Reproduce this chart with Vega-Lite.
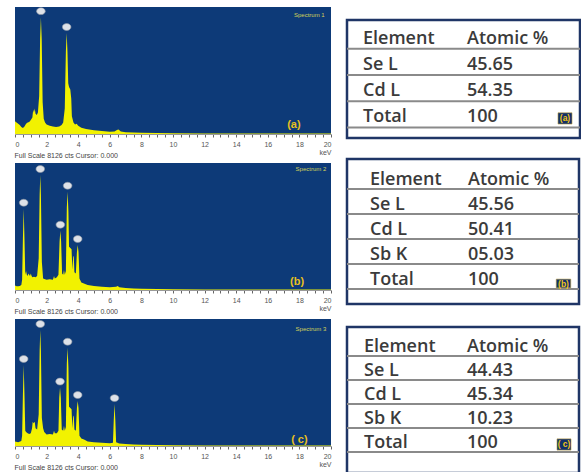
{
  "$schema": "https://vega.github.io/schema/vega-lite/v6.json",
  "padding": {"left": 14, "top": 7, "right": 0, "bottom": 0},
  "background": "white",
  "config": {"view": {"stroke": null}, "font": "Liberation Sans"},
  "datasets": {
    "specA": [
      {"keV":0,"cts":10},{"keV":0.1,"cts":9},{"keV":0.2,"cts":8},{"keV":0.3,"cts":7},{"keV":0.4,"cts":5.5},{"keV":0.5,"cts":4.7},{"keV":0.6,"cts":6},{"keV":0.7,"cts":8},{"keV":0.8,"cts":9},{"keV":0.9,"cts":9.5},{"keV":1.0,"cts":11},{"keV":1.1,"cts":13},{"keV":1.15,"cts":19},{"keV":1.2,"cts":17},{"keV":1.25,"cts":20},{"keV":1.3,"cts":16},{"keV":1.38,"cts":15},{"keV":1.45,"cts":17},{"keV":1.53,"cts":30},{"keV":1.59,"cts":75},{"keV":1.64,"cts":92},{"keV":1.69,"cts":75},{"keV":1.75,"cts":25},{"keV":1.82,"cts":12},{"keV":1.9,"cts":9},{"keV":2.0,"cts":7.5},{"keV":2.2,"cts":6.5},{"keV":2.4,"cts":6},{"keV":2.6,"cts":5.5},{"keV":2.8,"cts":6},{"keV":2.95,"cts":7},{"keV":3.05,"cts":9},{"keV":3.15,"cts":20},{"keV":3.22,"cts":65},{"keV":3.27,"cts":79.5},{"keV":3.32,"cts":65},{"keV":3.37,"cts":40},{"keV":3.42,"cts":37},{"keV":3.5,"cts":35},{"keV":3.56,"cts":28},{"keV":3.6,"cts":14},{"keV":3.7,"cts":9},{"keV":3.8,"cts":7.5},{"keV":3.9,"cts":8},{"keV":4.0,"cts":6.5},{"keV":4.2,"cts":5},{"keV":4.5,"cts":4},{"keV":5.0,"cts":3},{"keV":5.5,"cts":2.4},{"keV":6.0,"cts":1.8},{"keV":6.3,"cts":2},{"keV":6.45,"cts":3.2},{"keV":6.55,"cts":3.5},{"keV":6.7,"cts":2},{"keV":7.0,"cts":1.4},{"keV":7.5,"cts":1.1},{"keV":8.0,"cts":1},{"keV":9.0,"cts":0.7},{"keV":10,"cts":0.5},{"keV":12,"cts":0.4},{"keV":20,"cts":0.3}
    ],
    "specB": [
      {"keV":0,"cts":3.5},{"keV":0.1,"cts":3},{"keV":0.2,"cts":3},{"keV":0.3,"cts":3.2},{"keV":0.4,"cts":4},{"keV":0.45,"cts":8},{"keV":0.5,"cts":40},{"keV":0.55,"cts":64},{"keV":0.6,"cts":40},{"keV":0.65,"cts":12},{"keV":0.7,"cts":15},{"keV":0.75,"cts":12},{"keV":0.8,"cts":11},{"keV":0.85,"cts":13},{"keV":0.9,"cts":12},{"keV":0.95,"cts":11},{"keV":1.0,"cts":13},{"keV":1.05,"cts":11},{"keV":1.1,"cts":10},{"keV":1.2,"cts":10.5},{"keV":1.3,"cts":10},{"keV":1.4,"cts":11},{"keV":1.5,"cts":25},{"keV":1.56,"cts":75},{"keV":1.6,"cts":90.5},{"keV":1.64,"cts":75},{"keV":1.7,"cts":22},{"keV":1.78,"cts":9},{"keV":1.9,"cts":8.5},{"keV":2.0,"cts":8},{"keV":2.2,"cts":8.5},{"keV":2.4,"cts":8},{"keV":2.47,"cts":11},{"keV":2.52,"cts":9},{"keV":2.65,"cts":10},{"keV":2.75,"cts":12},{"keV":2.82,"cts":38},{"keV":2.87,"cts":46.7},{"keV":2.92,"cts":38},{"keV":2.98,"cts":13},{"keV":3.05,"cts":12},{"keV":3.1,"cts":16},{"keV":3.15,"cts":12},{"keV":3.22,"cts":15},{"keV":3.28,"cts":65},{"keV":3.33,"cts":77.4},{"keV":3.38,"cts":62},{"keV":3.42,"cts":34},{"keV":3.5,"cts":33},{"keV":3.58,"cts":32},{"keV":3.63,"cts":16},{"keV":3.68,"cts":26},{"keV":3.72,"cts":27},{"keV":3.76,"cts":14},{"keV":3.85,"cts":13},{"keV":3.92,"cts":30},{"keV":3.97,"cts":35.4},{"keV":4.02,"cts":30},{"keV":4.08,"cts":9},{"keV":4.2,"cts":6},{"keV":4.4,"cts":5},{"keV":4.6,"cts":4},{"keV":5.0,"cts":3.2},{"keV":5.5,"cts":2.6},{"keV":6.0,"cts":2.1},{"keV":6.4,"cts":2.5},{"keV":6.5,"cts":3.2},{"keV":6.6,"cts":2.2},{"keV":7.0,"cts":1.5},{"keV":7.5,"cts":1.2},{"keV":8.0,"cts":1.0},{"keV":9.0,"cts":0.7},{"keV":10,"cts":0.5},{"keV":12,"cts":0.4},{"keV":20,"cts":0.3}
    ],
    "specC": [
      {"keV":0,"cts":3.5},{"keV":0.2,"cts":3},{"keV":0.4,"cts":4},{"keV":0.45,"cts":8},{"keV":0.5,"cts":40},{"keV":0.55,"cts":63.8},{"keV":0.6,"cts":40},{"keV":0.65,"cts":12},{"keV":0.7,"cts":11},{"keV":0.8,"cts":10},{"keV":0.9,"cts":9.5},{"keV":1.0,"cts":10},{"keV":1.08,"cts":14},{"keV":1.12,"cts":19},{"keV":1.18,"cts":18},{"keV":1.25,"cts":19},{"keV":1.3,"cts":14},{"keV":1.4,"cts":13},{"keV":1.5,"cts":25},{"keV":1.56,"cts":75},{"keV":1.6,"cts":91.3},{"keV":1.64,"cts":75},{"keV":1.7,"cts":22},{"keV":1.78,"cts":14},{"keV":1.85,"cts":11},{"keV":2.0,"cts":9},{"keV":2.2,"cts":9.5},{"keV":2.4,"cts":9},{"keV":2.47,"cts":12},{"keV":2.52,"cts":10},{"keV":2.65,"cts":10},{"keV":2.75,"cts":12},{"keV":2.8,"cts":38},{"keV":2.85,"cts":46},{"keV":2.9,"cts":38},{"keV":2.96,"cts":13},{"keV":3.05,"cts":12},{"keV":3.1,"cts":16},{"keV":3.15,"cts":12},{"keV":3.22,"cts":15},{"keV":3.28,"cts":65},{"keV":3.33,"cts":77.4},{"keV":3.38,"cts":62},{"keV":3.42,"cts":31},{"keV":3.5,"cts":30},{"keV":3.58,"cts":29},{"keV":3.63,"cts":14},{"keV":3.68,"cts":23},{"keV":3.72,"cts":24},{"keV":3.76,"cts":13},{"keV":3.85,"cts":12},{"keV":3.92,"cts":30},{"keV":3.97,"cts":35.4},{"keV":4.02,"cts":30},{"keV":4.08,"cts":8},{"keV":4.2,"cts":6},{"keV":4.4,"cts":5},{"keV":4.6,"cts":3.5},{"keV":5.0,"cts":3},{"keV":5.5,"cts":2.5},{"keV":6.0,"cts":2.2},{"keV":6.2,"cts":2.5},{"keV":6.25,"cts":20},{"keV":6.3,"cts":33},{"keV":6.35,"cts":20},{"keV":6.4,"cts":3},{"keV":6.6,"cts":2},{"keV":7.0,"cts":1.5},{"keV":7.5,"cts":1.2},{"keV":8.0,"cts":1.0},{"keV":9.0,"cts":0.7},{"keV":10,"cts":0.5},{"keV":12,"cts":0.4},{"keV":20,"cts":0.3}
    ],
    "peaksA": [{"keV":1.64,"cts":92},{"keV":3.27,"cts":79.5}],
    "peaksB": [{"keV":0.55,"cts":64},{"keV":1.6,"cts":90.5},{"keV":2.87,"cts":46.7},{"keV":3.33,"cts":77.4},{"keV":3.97,"cts":35.4}],
    "peaksC": [{"keV":0.55,"cts":63.8},{"keV":1.6,"cts":91.3},{"keV":2.85,"cts":46},{"keV":3.33,"cts":77.4},{"keV":3.97,"cts":35.4},{"keV":6.3,"cts":33}],
    "tableA": [{"element":"Element","atomic":"Atomic %"},{"element":"Se L","atomic":"45.65"},{"element":"Cd L","atomic":"54.35"},{"element":"Total","atomic":"100","badge":"(a)"}],
    "tableB": [{"element":"Element","atomic":"Atomic %"},{"element":"Se L","atomic":"45.56"},{"element":"Cd L","atomic":"50.41"},{"element":"Sb K","atomic":"05.03"},{"element":"Total","atomic":"100","badge":"(b)"}],
    "tableC": [{"element":"Element","atomic":"Atomic %"},{"element":"Se L","atomic":"44.43"},{"element":"Cd L","atomic":"45.34"},{"element":"Sb K","atomic":"10.23"},{"element":"Total","atomic":"100","badge":"( c)"}]
  },
  "spacing": 12,
  "hconcat": [
    {
      "spacing": 29,
      "bounds": "flush",
      "vconcat": [
        {
          "width": 316, "height": 127,
          "view": {"fill": "#0d3a78", "stroke": null},
          "title": {"text": "Full Scale 8126 cts Cursor: 0.000", "orient": "bottom", "anchor": "start", "fontSize": 7, "fontWeight": "normal", "color": "#444444", "offset": -3},
          "layer": [
            {"data": {"name": "specA"}, "mark": {"type": "area", "color": "#f2f200", "clip": true, "opacity": 1},
             "encoding": {
               "x": {"field": "keV", "type": "quantitative", "scale": {"domain": [0, 20], "nice": false, "zero": false},
                     "axis": {"values": [0,0.5,1,1.5,2,2.5,3,3.5,4,4.5,5,5.5,6,6.5,7,7.5,8,8.5,9,9.5,10,10.5,11,11.5,12,12.5,13,13.5,14,14.5,15,15.5,16,16.5,17,17.5,18,18.5,19,19.5,20], "tickCount": 100,
                              "labelExpr": "datum.value % 2 === 0 ? format(datum.value, 'd') : ''", "labelOverlap": false, "labelFlush": true,
                              "labelFontSize": 7, "labelColor": "#555555", "labelPadding": 3, "tickSize": 3, "tickColor": "#666666", "domainColor": "#999999", "grid": false,
                              "title": "keV", "titleAnchor": "end", "titleFontSize": 7, "titleFontWeight": "normal", "titleColor": "#555555", "titlePadding": 1}},
               "y": {"field": "cts", "type": "quantitative", "scale": {"domain": [0, 100]}, "axis": null}}},
            {"data": {"name": "peaksA"}, "mark": {"type": "point", "shape": "M-1,0A1,0.8 0 1,0 1,0A1,0.8 0 1,0 -1,0Z", "filled": true, "size": 75, "fill": "#dde1e8", "stroke": "#8f97a3", "strokeWidth": 0.6, "opacity": 1, "yOffset": -6, "clip": true},
             "encoding": {"x": {"field": "keV", "type": "quantitative"}, "y": {"field": "cts", "type": "quantitative"}}},
            {"data": {"values": [{}]}, "mark": {"type": "text", "text": "Spectrum 1", "align": "right", "baseline": "middle", "fontSize": 6, "color": "#d2d25a"},
             "encoding": {"x": {"datum": 19.6}, "y": {"datum": 94}}},
            {"data": {"values": [{}]}, "mark": {"type": "text", "text": "(a)", "align": "center", "baseline": "middle", "fontSize": 11, "fontWeight": "bold", "color": "#e8c020"},
             "encoding": {"x": {"datum": 17.65}, "y": {"datum": 7}}}
          ]
        },
        {
          "width": 316, "height": 127,
          "view": {"fill": "#0d3a78", "stroke": null},
          "title": {"text": "Full Scale 8126 cts Cursor: 0.000", "orient": "bottom", "anchor": "start", "fontSize": 7, "fontWeight": "normal", "color": "#444444", "offset": -3},
          "layer": [
            {"data": {"name": "specB"}, "mark": {"type": "area", "color": "#f2f200", "clip": true, "opacity": 1},
             "encoding": {
               "x": {"field": "keV", "type": "quantitative", "scale": {"domain": [0, 20], "nice": false, "zero": false},
                     "axis": {"values": [0,0.5,1,1.5,2,2.5,3,3.5,4,4.5,5,5.5,6,6.5,7,7.5,8,8.5,9,9.5,10,10.5,11,11.5,12,12.5,13,13.5,14,14.5,15,15.5,16,16.5,17,17.5,18,18.5,19,19.5,20], "tickCount": 100,
                              "labelExpr": "datum.value % 2 === 0 ? format(datum.value, 'd') : ''", "labelOverlap": false, "labelFlush": true,
                              "labelFontSize": 7, "labelColor": "#555555", "labelPadding": 3, "tickSize": 3, "tickColor": "#666666", "domainColor": "#999999", "grid": false,
                              "title": "keV", "titleAnchor": "end", "titleFontSize": 7, "titleFontWeight": "normal", "titleColor": "#555555", "titlePadding": 1}},
               "y": {"field": "cts", "type": "quantitative", "scale": {"domain": [0, 100]}, "axis": null}}},
            {"data": {"name": "peaksB"}, "mark": {"type": "point", "shape": "M-1,0A1,0.8 0 1,0 1,0A1,0.8 0 1,0 -1,0Z", "filled": true, "size": 75, "fill": "#dde1e8", "stroke": "#8f97a3", "strokeWidth": 0.6, "opacity": 1, "yOffset": -6, "clip": true},
             "encoding": {"x": {"field": "keV", "type": "quantitative"}, "y": {"field": "cts", "type": "quantitative"}}},
            {"data": {"values": [{}]}, "mark": {"type": "text", "text": "Spectrum 2", "align": "right", "baseline": "middle", "fontSize": 6, "color": "#d2d25a"},
             "encoding": {"x": {"datum": 19.7}, "y": {"datum": 95.5}}},
            {"data": {"values": [{}]}, "mark": {"type": "text", "text": "(b)", "align": "center", "baseline": "middle", "fontSize": 11, "fontWeight": "bold", "color": "#e8c020"},
             "encoding": {"x": {"datum": 17.85}, "y": {"datum": 6.5}}}
          ]
        },
        {
          "width": 316, "height": 127,
          "view": {"fill": "#0d3a78", "stroke": null},
          "title": {"text": "Full Scale 8126 cts Cursor: 0.000", "orient": "bottom", "anchor": "start", "fontSize": 7, "fontWeight": "normal", "color": "#444444", "offset": -3},
          "layer": [
            {"data": {"name": "specC"}, "mark": {"type": "area", "color": "#f2f200", "clip": true, "opacity": 1},
             "encoding": {
               "x": {"field": "keV", "type": "quantitative", "scale": {"domain": [0, 20], "nice": false, "zero": false},
                     "axis": {"values": [0,0.5,1,1.5,2,2.5,3,3.5,4,4.5,5,5.5,6,6.5,7,7.5,8,8.5,9,9.5,10,10.5,11,11.5,12,12.5,13,13.5,14,14.5,15,15.5,16,16.5,17,17.5,18,18.5,19,19.5,20], "tickCount": 100,
                              "labelExpr": "datum.value % 2 === 0 ? format(datum.value, 'd') : ''", "labelOverlap": false, "labelFlush": true,
                              "labelFontSize": 7, "labelColor": "#555555", "labelPadding": 3, "tickSize": 3, "tickColor": "#666666", "domainColor": "#999999", "grid": false,
                              "title": "keV", "titleAnchor": "end", "titleFontSize": 7, "titleFontWeight": "normal", "titleColor": "#555555", "titlePadding": 1}},
               "y": {"field": "cts", "type": "quantitative", "scale": {"domain": [0, 100]}, "axis": null}}},
            {"data": {"name": "peaksC"}, "mark": {"type": "point", "shape": "M-1,0A1,0.8 0 1,0 1,0A1,0.8 0 1,0 -1,0Z", "filled": true, "size": 75, "fill": "#dde1e8", "stroke": "#8f97a3", "strokeWidth": 0.6, "opacity": 1, "yOffset": -6, "clip": true},
             "encoding": {"x": {"field": "keV", "type": "quantitative"}, "y": {"field": "cts", "type": "quantitative"}}},
            {"data": {"values": [{}]}, "mark": {"type": "text", "text": "Spectrum 3", "align": "right", "baseline": "middle", "fontSize": 6, "color": "#d2d25a"},
             "encoding": {"x": {"datum": 19.7}, "y": {"datum": 92}}},
            {"data": {"values": [{}]}, "mark": {"type": "text", "text": "( c)", "align": "center", "baseline": "middle", "fontSize": 11, "fontWeight": "bold", "color": "#e8c020"},
             "encoding": {"x": {"datum": 18.0}, "y": {"datum": 4.5}}}
          ]
        }
      ]
    },
    {
      "spacing": 0,
      "vconcat": [
        {"width": 1, "height": 11, "data": {"values": []}, "mark": {"type": "point"}},
        {
          "width": 233, "height": 118,
          "view": {"stroke": "#1f3566", "strokeWidth": 2.5, "fill": "white"},
          "data": {"name": "tableA"},
          "layer": [
            {"mark": {"type": "rule", "color": "#8a8a8a", "strokeWidth": 2},
             "encoding": {"y": {"field": "element", "type": "nominal", "sort": null, "bandPosition": 1, "axis": null, "scale": {"type": "band", "paddingInner": 0, "paddingOuter": 0.25, "align": 0.2}}}},
            {"mark": {"type": "text", "align": "left", "baseline": "middle", "dy": 3, "font": "Open Sans", "fontSize": 18, "fontWeight": 600, "color": "#3b3b3b"},
             "encoding": {"x": {"datum": "c1", "type": "nominal", "axis": null, "scale": {"type": "point", "domain": ["c1", "c2", "c3"], "range": [16, 224], "padding": 0}},
                          "y": {"field": "element", "type": "nominal", "sort": null}, "text": {"field": "element"}}},
            {"mark": {"type": "text", "align": "left", "baseline": "middle", "dy": 3, "font": "Open Sans", "fontSize": 18, "fontWeight": 600, "color": "#3b3b3b"},
             "encoding": {"x": {"datum": "c2", "type": "nominal"}, "y": {"field": "element", "type": "nominal", "sort": null}, "text": {"field": "atomic"}}},
            {"transform": [{"filter": "isValid(datum.badge)"}],
             "mark": {"type": "point", "shape": "M-1,-0.8H1V0.8H-1Z", "filled": true, "size": 196, "fill": "#12306b", "stroke": "#b99b3a", "strokeWidth": 0.6, "opacity": 1, "yOffset": 4, "xOffset": -6},
             "encoding": {"x": {"datum": "c3", "type": "nominal"}, "y": {"field": "element", "type": "nominal", "sort": null}}},
            {"transform": [{"filter": "isValid(datum.badge)"}],
             "mark": {"type": "text", "align": "center", "baseline": "middle", "fontSize": 8.5, "fontWeight": "bold", "color": "#f0c419", "yOffset": 4, "xOffset": -6},
             "encoding": {"x": {"datum": "c3", "type": "nominal"}, "y": {"field": "element", "type": "nominal", "sort": null}, "text": {"field": "badge"}}}
          ]
        },
        {"width": 1, "height": 17, "data": {"values": []}, "mark": {"type": "point"}},
        {
          "width": 232, "height": 145,
          "view": {"stroke": "#1f3566", "strokeWidth": 2.5, "fill": "white"},
          "data": {"name": "tableB"},
          "layer": [
            {"mark": {"type": "rule", "color": "#8a8a8a", "strokeWidth": 2},
             "encoding": {"y": {"field": "element", "type": "nominal", "sort": null, "bandPosition": 1, "axis": null, "scale": {"type": "band", "paddingInner": 0, "paddingOuter": 0.4, "align": 0.25}}}},
            {"mark": {"type": "text", "align": "left", "baseline": "middle", "dy": 3, "font": "Open Sans", "fontSize": 18, "fontWeight": 600, "color": "#3b3b3b"},
             "encoding": {"x": {"datum": "c1", "type": "nominal", "axis": null, "scale": {"type": "point", "domain": ["c1", "c2", "c3"], "range": [23, 219], "padding": 0}},
                          "y": {"field": "element", "type": "nominal", "sort": null}, "text": {"field": "element"}}},
            {"mark": {"type": "text", "align": "left", "baseline": "middle", "dy": 3, "font": "Open Sans", "fontSize": 18, "fontWeight": 600, "color": "#3b3b3b"},
             "encoding": {"x": {"datum": "c2", "type": "nominal"}, "y": {"field": "element", "type": "nominal", "sort": null}, "text": {"field": "atomic"}}},
            {"transform": [{"filter": "isValid(datum.badge)"}],
             "mark": {"type": "point", "shape": "M-1,-0.6H1V0.6H-1Z", "filled": true, "size": 210, "fill": "#12306b", "stroke": "#b99b3a", "strokeWidth": 0.6, "opacity": 1, "yOffset": 7, "xOffset": -2.5},
             "encoding": {"x": {"datum": "c3", "type": "nominal"}, "y": {"field": "element", "type": "nominal", "sort": null}}},
            {"transform": [{"filter": "isValid(datum.badge)"}],
             "mark": {"type": "text", "align": "center", "baseline": "middle", "fontSize": 8.5, "fontWeight": "bold", "color": "#f0c419", "yOffset": 7, "xOffset": -2.5},
             "encoding": {"x": {"datum": "c3", "type": "nominal"}, "y": {"field": "element", "type": "nominal", "sort": null}, "text": {"field": "badge"}}}
          ]
        },
        {"width": 1, "height": 19, "data": {"values": []}, "mark": {"type": "point"}},
        {
          "width": 232, "height": 146,
          "view": {"stroke": "#1f3566", "strokeWidth": 2.5, "fill": "white"},
          "data": {"name": "tableC"},
          "layer": [
            {"mark": {"type": "rule", "color": "#8a8a8a", "strokeWidth": 2},
             "encoding": {"y": {"field": "element", "type": "nominal", "sort": null, "bandPosition": 1, "axis": null, "scale": {"type": "band", "paddingInner": 0, "paddingOuter": 0.54, "align": 0.19}}}},
            {"mark": {"type": "text", "align": "left", "baseline": "middle", "dy": 3, "font": "Open Sans", "fontSize": 18, "fontWeight": 600, "color": "#3b3b3b"},
             "encoding": {"x": {"datum": "c1", "type": "nominal", "axis": null, "scale": {"type": "point", "domain": ["c1", "c2", "c3"], "range": [17, 223], "padding": 0}},
                          "y": {"field": "element", "type": "nominal", "sort": null}, "text": {"field": "element"}}},
            {"mark": {"type": "text", "align": "left", "baseline": "middle", "dy": 3, "font": "Open Sans", "fontSize": 18, "fontWeight": 600, "color": "#3b3b3b"},
             "encoding": {"x": {"datum": "c2", "type": "nominal"}, "y": {"field": "element", "type": "nominal", "sort": null}, "text": {"field": "atomic"}}},
            {"transform": [{"filter": "isValid(datum.badge)"}],
             "mark": {"type": "point", "shape": "M-1,-0.8H1V0.8H-1Z", "filled": true, "size": 196, "fill": "#12306b", "stroke": "#b99b3a", "strokeWidth": 0.6, "opacity": 1, "yOffset": 4.5, "xOffset": -6},
             "encoding": {"x": {"datum": "c3", "type": "nominal"}, "y": {"field": "element", "type": "nominal", "sort": null}}},
            {"transform": [{"filter": "isValid(datum.badge)"}],
             "mark": {"type": "text", "align": "center", "baseline": "middle", "fontSize": 8.5, "fontWeight": "bold", "color": "#f0c419", "yOffset": 4.5, "xOffset": -6},
             "encoding": {"x": {"datum": "c3", "type": "nominal"}, "y": {"field": "element", "type": "nominal", "sort": null}, "text": {"field": "badge"}}}
          ]
        }
      ]
    }
  ]
}
